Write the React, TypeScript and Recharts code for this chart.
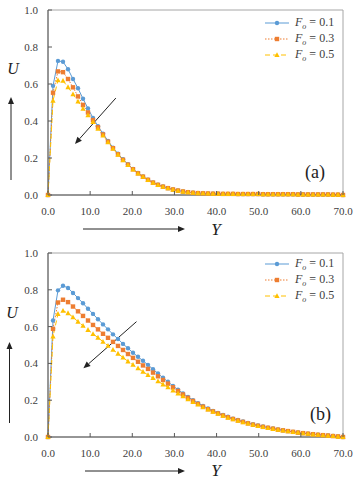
import React from "react"
import { LineChart, Line, XAxis, YAxis, ReferenceArea, ReferenceLine, Legend } from "recharts"

// Y position of each computed point (same grid for both panels)
const Y_POS = [
  0, 1.19, 2.37, 3.56, 4.75, 5.93, 7.12, 8.31, 9.49, 10.68,
  11.86, 13.05, 14.24, 15.42, 16.61, 17.8, 18.98, 20.17, 21.36, 22.54,
  23.73, 24.92, 26.1, 27.29, 28.47, 29.66, 30.85, 32.03, 33.22, 34.41,
  35.59, 36.78, 37.97, 39.15, 40.34, 41.53, 42.71, 43.9, 45.08, 46.27,
  47.46, 48.64, 49.83, 51.02, 52.2, 53.39, 54.58, 55.76, 56.95, 58.14,
  59.32, 60.51, 61.69, 62.88, 64.07, 65.25, 66.44, 67.63, 68.81, 70,
]

// panel (a)
const UA_FO1 = [
  0, 0.59, 0.725, 0.72, 0.68, 0.627, 0.577, 0.52, 0.468, 0.416,
  0.372, 0.332, 0.292, 0.256, 0.223, 0.193, 0.166, 0.141, 0.119, 0.1,
  0.083, 0.068, 0.056, 0.046, 0.037, 0.03, 0.024, 0.019, 0.015, 0.012,
  0.01, 0.009, 0.008, 0.007, 0.007, 0.006, 0.006, 0.006, 0.005, 0.005,
  0.005, 0.005, 0.005, 0.004, 0.004, 0.004, 0.004, 0.004, 0.004, 0.004,
  0.003, 0.003, 0.003, 0.003, 0.003, 0.003, 0.003, 0.002, 0.002, 0,
]
const UA_FO3 = [
  0, 0.553, 0.668, 0.664, 0.627, 0.582, 0.533, 0.487, 0.446, 0.405,
  0.366, 0.327, 0.288, 0.253, 0.22, 0.19, 0.164, 0.139, 0.117, 0.099,
  0.082, 0.067, 0.055, 0.045, 0.037, 0.03, 0.024, 0.019, 0.015, 0.012,
  0.01, 0.009, 0.008, 0.007, 0.007, 0.006, 0.006, 0.006, 0.005, 0.005,
  0.005, 0.005, 0.005, 0.004, 0.004, 0.004, 0.004, 0.004, 0.004, 0.004,
  0.003, 0.003, 0.003, 0.003, 0.003, 0.003, 0.003, 0.002, 0.002, 0,
]
const UA_FO5 = [
  0, 0.51, 0.62, 0.617, 0.583, 0.545, 0.505, 0.466, 0.431, 0.395,
  0.358, 0.322, 0.285, 0.25, 0.218, 0.188, 0.162, 0.138, 0.116, 0.098,
  0.081, 0.066, 0.054, 0.044, 0.036, 0.029, 0.023, 0.018, 0.015, 0.012,
  0.01, 0.009, 0.008, 0.007, 0.007, 0.006, 0.006, 0.006, 0.005, 0.005,
  0.005, 0.005, 0.005, 0.004, 0.004, 0.004, 0.004, 0.004, 0.004, 0.004,
  0.003, 0.003, 0.003, 0.003, 0.003, 0.003, 0.003, 0.002, 0.002, 0,
]

// panel (b)
const UB_FO1 = [
  0, 0.633, 0.797, 0.822, 0.81, 0.783, 0.755, 0.727, 0.697, 0.669,
  0.64, 0.612, 0.585, 0.558, 0.533, 0.506, 0.482, 0.458, 0.436, 0.414,
  0.392, 0.368, 0.345, 0.322, 0.3, 0.278, 0.257, 0.237, 0.218, 0.2,
  0.184, 0.169, 0.155, 0.142, 0.131, 0.12, 0.11, 0.1, 0.092, 0.084,
  0.076, 0.069, 0.063, 0.057, 0.051, 0.046, 0.041, 0.037, 0.032, 0.028,
  0.025, 0.021, 0.018, 0.015, 0.013, 0.01, 0.008, 0.006, 0.003, 0,
]
const UB_FO3 = [
  0, 0.588, 0.731, 0.746, 0.733, 0.709, 0.683, 0.658, 0.633, 0.609,
  0.585, 0.561, 0.539, 0.517, 0.495, 0.473, 0.451, 0.43, 0.409, 0.389,
  0.37, 0.35, 0.33, 0.31, 0.29, 0.27, 0.25, 0.231, 0.213, 0.196,
  0.18, 0.165, 0.151, 0.139, 0.128, 0.117, 0.107, 0.098, 0.09, 0.082,
  0.074, 0.067, 0.061, 0.055, 0.05, 0.045, 0.04, 0.036, 0.032, 0.028,
  0.024, 0.021, 0.018, 0.015, 0.012, 0.01, 0.008, 0.005, 0.003, 0,
]
const UB_FO5 = [
  0, 0.546, 0.669, 0.686, 0.673, 0.651, 0.627, 0.604, 0.582, 0.56,
  0.54, 0.518, 0.496, 0.474, 0.453, 0.432, 0.411, 0.392, 0.373, 0.355,
  0.337, 0.32, 0.303, 0.286, 0.27, 0.253, 0.237, 0.221, 0.205, 0.19,
  0.176, 0.162, 0.149, 0.137, 0.126, 0.115, 0.105, 0.096, 0.088, 0.08,
  0.073, 0.066, 0.06, 0.054, 0.049, 0.044, 0.039, 0.035, 0.031, 0.027,
  0.024, 0.02, 0.017, 0.014, 0.012, 0.009, 0.007, 0.005, 0.002, 0,
]

const X_TICKS = [0, 10, 20, 30, 40, 50, 60, 70]
const U_TICKS = [0, 0.2, 0.4, 0.6, 0.8, 1.0]
const FO_VALUES = ["0.1", "0.3", "0.5"]

const BLUE = "#5b9bd5"
const ORANGE = "#ed7d31"
const GOLD = "#ffc000"
const AXIS = "#595959"
const TXT = "#404040"
const FONT = "'Liberation Serif', 'Times New Roman', serif"

const buildRows = (f1: number[], f3: number[], f5: number[]) =>
  Y_POS.map((y, i) => ({ y, f1: f1[i], f3: f3[i], f5: f5[i] }))

function XTick({ x, y, payload }: any) {
  return (
    <g>
      <line x1={x} x2={x} y1={y - 12} y2={y - 16} stroke={AXIS} />
      <text x={x} y={y} dy="0.71em" textAnchor="middle" fontSize={11} fontFamily={FONT} fill={TXT}>
        {Number(payload.value).toFixed(1)}
      </text>
    </g>
  )
}

function YTick({ x, y, payload }: any) {
  return (
    <g>
      <line x1={x + 10} x2={x + 14} y1={y} y2={y} stroke={AXIS} />
      <text x={x} y={y} dy="0.355em" textAnchor="end" fontSize={11} fontFamily={FONT} fill={TXT}>
        {Number(payload.value).toFixed(1)}
      </text>
    </g>
  )
}

function Marker({ kind, cx, cy }: { kind: number; cx: number; cy: number }) {
  if (kind === 0) return <circle cx={cx} cy={cy} r={2.2} fill={BLUE} />
  if (kind === 1) return <rect x={cx - 2.2} y={cy - 2.2} width={4.4} height={4.4} fill={ORANGE} />
  return <polygon points={`${cx},${cy - 2.8} ${cx + 2.6},${cy + 2} ${cx - 2.6},${cy + 2}`} fill={GOLD} />
}

const dotOf = (kind: number) => (p: any) =>
  p.cx == null ? <g key={p.index} /> : <g key={p.index}><Marker kind={kind} cx={p.cx} cy={p.cy} /></g>

function Arrow({ x1, y1, x2, y2 }: any) {
  const a = Math.atan2(y2 - y1, x2 - x1)
  const bx = x2 - 7 * Math.cos(a)
  const by = y2 - 7 * Math.sin(a)
  const px = -Math.sin(a) * 3
  const py = Math.cos(a) * 3
  return (
    <g>
      <line x1={x1} y1={y1} x2={bx} y2={by} stroke="#222" strokeWidth={1} />
      <polygon points={`${x2},${y2} ${bx + px},${by + py} ${bx - px},${by - py}`} fill="#222" />
    </g>
  )
}

const SERIES = [
  { color: BLUE, dash: undefined },
  { color: ORANGE, dash: "1.5 1.5" },
  { color: GOLD, dash: "5 3" },
]

function FoLegend() {
  return (
    <div style={{ fontFamily: FONT, fontSize: 12, color: TXT }}>
      {SERIES.map((s, i) => (
        <div key={i} style={{ height: 16, display: "flex", alignItems: "center" }}>
          <svg width={28} height={12}>
            <line x1={1} x2={25} y1={6} y2={6} stroke={s.color} strokeDasharray={s.dash} />
            <Marker kind={i} cx={13} cy={6} />
          </svg>
          <span style={{ marginLeft: 3, whiteSpace: "nowrap" }}>
            <i>F</i><sub style={{ fontSize: 8, fontStyle: "italic" }}>o</sub> = {FO_VALUES[i]}
          </span>
        </div>
      ))}
    </div>
  )
}

interface PanelProps {
  rows: { y: number; f1: number; f3: number; f5: number }[]
  top: number
  bottom: number
  legendTop: number
  arrow: { x: number; y: number }[]
}

function Panel({ rows, top, bottom, legendTop, arrow }: PanelProps) {
  return (
    <LineChart width={356} height={240} data={rows} margin={{ top, right: 13, bottom, left: 0 }}>
      <ReferenceArea x1={0} x2={70} y1={0} y2={1} fill="none" stroke="#a6a6a6" ifOverflow="visible" />
      <XAxis
        type="number" dataKey="y" domain={[0, 70]} ticks={X_TICKS} interval={0}
        height={30} tickSize={0} tickMargin={12} tick={XTick} axisLine={{ stroke: AXIS }}
      />
      <YAxis
        type="number" domain={[0, 1]} ticks={U_TICKS} interval={0}
        width={48} tickSize={0} tickMargin={10} tick={YTick} axisLine={{ stroke: AXIS }}
      />
      <ReferenceLine segment={arrow} shape={Arrow} ifOverflow="visible" />
      <Line type="linear" dataKey="f1" stroke={BLUE} strokeWidth={1} dot={dotOf(0)} activeDot={false} isAnimationActive={false} />
      <Line type="linear" dataKey="f3" stroke={ORANGE} strokeWidth={1} strokeDasharray="1.5 1.5" dot={dotOf(1)} activeDot={false} isAnimationActive={false} />
      <Line type="linear" dataKey="f5" stroke={GOLD} strokeWidth={1} strokeDasharray="5 3" dot={dotOf(2)} activeDot={false} isAnimationActive={false} />
      <Legend
        layout="vertical" align="center" verticalAlign="middle" content={FoLegend}
        wrapperStyle={{ top: legendTop, left: 264, width: 80, height: 48 }}
      />
    </LineChart>
  )
}

const serifItalic = { fontFamily: FONT, fontStyle: "italic" as const, fill: "#222" }

export default function App() {
  return (
    <div style={{ position: "absolute", left: 0, top: 0, width: 356, height: 480, background: "#fff" }}>
      <div style={{ position: "absolute", left: 0, top: 0 }}>
        <Panel
          rows={buildRows(UA_FO1, UA_FO3, UA_FO5)} top={10} bottom={15} legendTop={15}
          arrow={[{ x: 16.1, y: 0.524 }, { x: 6.4, y: 0.276 }]}
        />
      </div>
      <div style={{ position: "absolute", left: 0, top: 240 }}>
        <Panel
          rows={buildRows(UB_FO1, UB_FO3, UB_FO5)} top={13} bottom={13} legendTop={16}
          arrow={[{ x: 21.0, y: 0.627 }, { x: 8.4, y: 0.373 }]}
        />
      </div>
      <svg width={356} height={480} style={{ position: "absolute", left: 0, top: 0, pointerEvents: "none" }}>
        <text x={13} y={74} textAnchor="middle" fontSize={16} {...serifItalic}>U</text>
        <Arrow x1={11} y1={180} x2={11} y2={97} />
        <Arrow x1={83} y1={229} x2={185} y2={229} />
        <text x={216} y={235} textAnchor="middle" fontSize={17} {...serifItalic}>Y</text>
        <text x={305} y={178} fontSize={18} fontFamily={FONT} fill="#222">(a)</text>

        <text x={12} y={318} textAnchor="middle" fontSize={16} {...serifItalic}>U</text>
        <Arrow x1={9.5} y1={423} x2={9.5} y2={342} />
        <Arrow x1={85} y1={471} x2={185} y2={471} />
        <text x={216} y={476} textAnchor="middle" fontSize={17} {...serifItalic}>Y</text>
        <text x={310} y={420} fontSize={18} fontFamily={FONT} fill="#222">(b)</text>
      </svg>
    </div>
  )
}
